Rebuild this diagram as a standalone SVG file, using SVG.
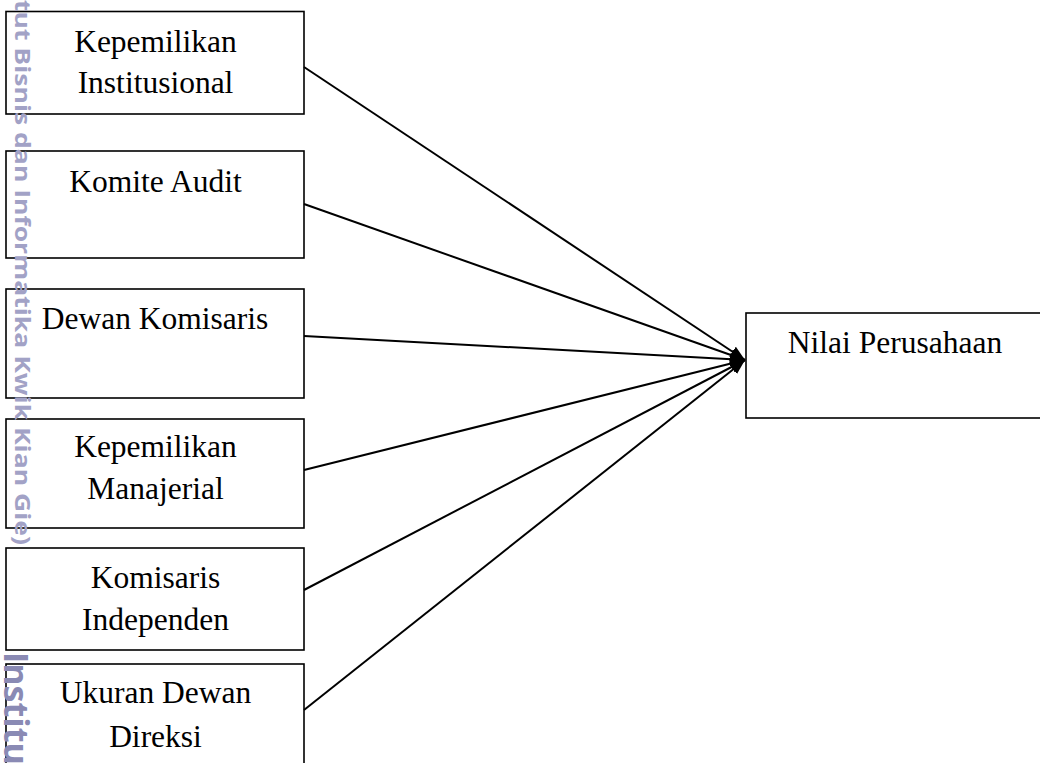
<svg xmlns="http://www.w3.org/2000/svg" width="1040" height="763" viewBox="0 0 1040 763">
<style>
.box{fill:none;stroke:#000;stroke-width:1.6}
.lbl{font-family:"Liberation Serif","Times New Roman",serif;font-size:31.5px;fill:#000;text-anchor:middle}
.con{stroke:#000;stroke-width:2;fill:none;marker-end:url(#ah)}
.wm{font-family:"Open Sans","DejaVu Sans",sans-serif;fill:#a2a2c6}
</style>
<defs>
<marker id="ah" markerUnits="userSpaceOnUse" markerWidth="16" markerHeight="12" refX="15" refY="6" orient="auto">
<path d="M0,0 L15,6 L0,12 z" fill="#000"/>
</marker>
</defs>
<rect width="1040" height="763" fill="#fff"/>
<g id="connectors">
<line class="con" x1="304" y1="67" x2="745" y2="360"/>
<line class="con" x1="304" y1="204" x2="745" y2="360"/>
<line class="con" x1="304" y1="336" x2="745" y2="360"/>
<line class="con" x1="304" y1="470" x2="745" y2="360"/>
<line class="con" x1="304" y1="590" x2="745" y2="360"/>
<line class="con" x1="304" y1="710" x2="745" y2="360"/>
</g>
<g id="n1"><rect class="box" x="6" y="11.5" width="298" height="102.5"/><text class="lbl" x="155.5" y="52">Kepemilikan</text><text class="lbl" x="155.5" y="93">Institusional</text></g>
<g id="n2"><rect class="box" x="6" y="151" width="298" height="107"/><text class="lbl" x="155.5" y="192">Komite Audit</text></g>
<g id="n3"><rect class="box" x="6" y="289" width="298" height="109"/><text class="lbl" x="155" y="329">Dewan Komisaris</text></g>
<g id="n4"><rect class="box" x="6" y="419" width="298" height="109"/><text class="lbl" x="155.5" y="457">Kepemilikan</text><text class="lbl" x="155.5" y="499">Manajerial</text></g>
<g id="n5"><rect class="box" x="6" y="548" width="298" height="102"/><text class="lbl" x="155.5" y="588">Komisaris</text><text class="lbl" x="155.5" y="630">Independen</text></g>
<g id="n6"><rect class="box" x="6" y="664" width="298" height="110"/><text class="lbl" x="155.5" y="703">Ukuran Dewan</text><text class="lbl" x="155.5" y="747">Direksi</text></g>
<g id="n7"><rect class="box" x="746" y="313" width="300" height="105"/><text class="lbl" x="895" y="353">Nilai Perusahaan</text></g>
<g id="watermark">
<text class="wm" transform="translate(15,0) rotate(90)" font-size="21" font-weight="bold" textLength="545" lengthAdjust="spacingAndGlyphs">tut Bisnis dan Informatika Kwik Kian Gie)</text>
<text class="wm" transform="translate(4,652) rotate(90)" font-size="34" font-weight="bold" style="fill:#8a8ab4">Institu</text>
</g>
</svg>
